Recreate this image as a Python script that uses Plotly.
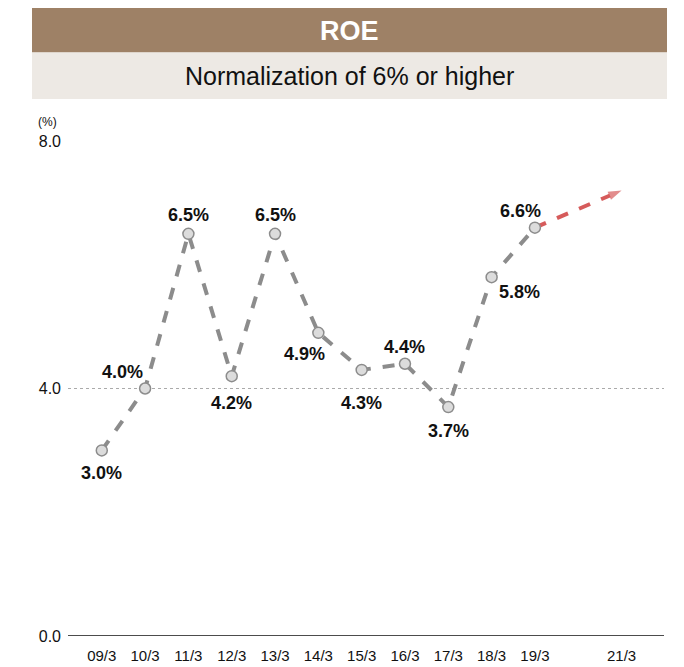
import plotly.graph_objects as go

categories = ["09/3", "10/3", "11/3", "12/3", "13/3", "14/3", "15/3", "16/3", "17/3", "18/3", "19/3", "20/3", "21/3"]
tick_labels = ["09/3", "10/3", "11/3", "12/3", "13/3", "14/3", "15/3", "16/3", "17/3", "18/3", "19/3", "", "21/3"]
actual_years = ["09/3", "10/3", "11/3", "12/3", "13/3", "14/3", "15/3", "16/3", "17/3", "18/3", "19/3"]
roe_values = [3.0, 4.0, 6.5, 4.2, 6.5, 4.9, 4.3, 4.4, 3.7, 5.8, 6.6]
target_years = ["19/3", "21/3"]
target_values = [6.6, 7.2]

# label offsets in px (dx right, dy down) relative to each point
label_dx = [0, -23, 0, 0, 0, -14, 0, 0, 0, 28, -14]
label_dy = [23, -17, -19, 27, -19, 21, 33, -17, 24, 15, -17]

OFF = 8  # page body margin
W, H = 684 - OFF, 667 - OFF
L, R, T, B = 60, 20, 133, 31
pw, ph = W - L - R, H - T - B

def px_x(x):
    return (x - OFF - L) / pw

def px_y(y):
    return (H - B - (y - OFF)) / ph

FONT = "Liberation Sans Narrow, Liberation Sans, Arial"

fig = go.Figure()

fig.add_trace(go.Scatter(
    x=target_years, y=target_values, mode="lines+markers",
    line=dict(color="#D65B5B", width=4, dash="dash"),
    marker=dict(symbol=["circle", "arrow"], size=[0, 14], angleref="previous", color="#D65B5B",
                line=dict(width=0)),
    hoverinfo="skip", showlegend=False, cliponaxis=False,
))

fig.add_trace(go.Scatter(
    x=actual_years, y=roe_values, mode="lines+markers",
    line=dict(color="#8C8C8C", width=4, dash="dash"),
    marker=dict(size=11, color="#DCDCDC", line=dict(color="#8C8C8C", width=1.5)),
    showlegend=False, cliponaxis=False,
))

fig.update_xaxes(
    type="category", categoryorder="array", categoryarray=categories,
    tickvals=categories, ticktext=tick_labels,
    range=[-0.78, 12.98], automargin=False, ticklabelstandoff=3,
    showgrid=False, zeroline=False, showline=False, ticks="",
    tickfont=dict(family=FONT, size=15, color="#111111"),
)
fig.update_yaxes(
    range=[0, 8], tickvals=[0, 4, 8], ticktext=["0.0", "4.0", "8.0"],
    automargin=False,
    showgrid=True, gridcolor="#AAAAAA", griddash="dot", gridwidth=1,
    zeroline=False, showline=False, ticks="",
    tickfont=dict(family=FONT, size=16, color="#111111"),
)

shapes = [
    dict(type="rect", xref="paper", yref="paper", x0=px_x(32), x1=px_x(667), y0=px_y(52.5), y1=px_y(8),
         fillcolor="#9E8166", line=dict(width=0), layer="below"),
    dict(type="rect", xref="paper", yref="paper", x0=px_x(32), x1=px_x(667), y0=px_y(99), y1=px_y(52.5),
         fillcolor="#EDE9E4", line=dict(width=0), layer="below"),
    dict(type="line", xref="paper", yref="y", x0=0, x1=1, y0=0, y1=0,
         line=dict(color="#111111", width=1.5)),
]

annotations = [
    dict(text="<b>ROE</b>", xref="paper", yref="paper", x=px_x(349), y=px_y(31),
         xanchor="center", yanchor="middle",
         showarrow=False, font=dict(family="Liberation Sans, Arial", size=27, color="white")),
    dict(text="Normalization of 6% or higher", xref="paper", yref="paper", x=px_x(349), y=px_y(76),
         xanchor="center", yanchor="middle",
         showarrow=False, font=dict(family="Liberation Sans, Arial", size=25, color="#111111")),
    dict(text="(%)", xref="paper", yref="paper", x=px_x(47), y=px_y(122),
         xanchor="center", yanchor="middle",
         showarrow=False, font=dict(family=FONT, size=12, color="#111111")),
]

for xv, yv, dx, dy in zip(actual_years, roe_values, label_dx, label_dy):
    annotations.append(dict(
        x=xv, y=yv, xref="x", yref="y", text=f"<b>{yv:.1f}%</b>",
        showarrow=False, xanchor="center", yanchor="middle",
        xshift=dx, yshift=-dy,
        font=dict(family=FONT, size=18, color="#111111"),
    ))

fig.update_layout(
    width=W, height=H,
    margin=dict(l=L, r=R, t=T, b=B, pad=6),
    plot_bgcolor="white", paper_bgcolor="white",
    shapes=shapes, annotations=annotations,
)

fig.write_html("out.html")
